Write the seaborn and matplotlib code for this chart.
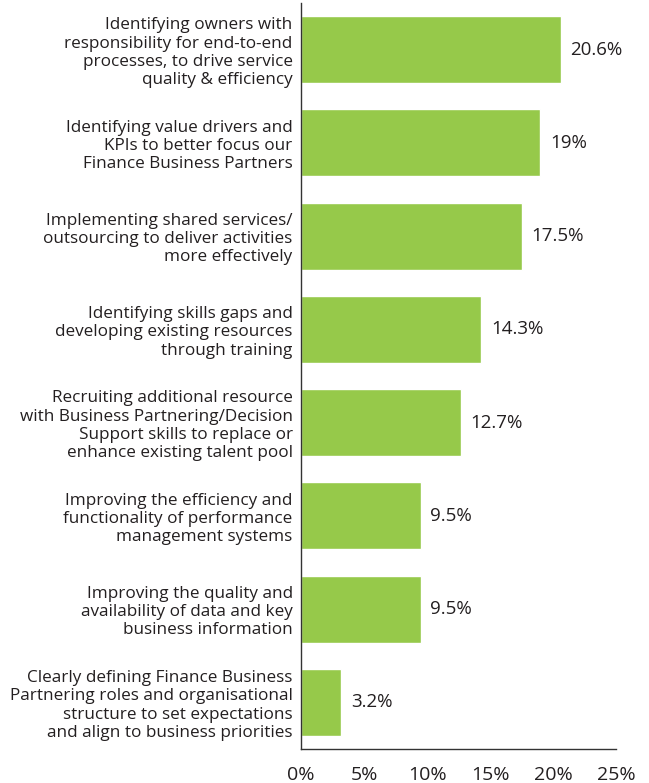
import matplotlib
matplotlib.use("Agg")
import matplotlib.pyplot as plt
import seaborn as sns
import pandas as pd

categories = [
    "Identifying owners with\nresponsibility for end-to-end\nprocesses, to drive service\nquality & efficiency",
    "Identifying value drivers and\nKPIs to better focus our\nFinance Business Partners",
    "Implementing shared services/\noutsourcing to deliver activities\nmore effectively",
    "Identifying skills gaps and\ndeveloping existing resources\nthrough training",
    "Recruiting additional resource\nwith Business Partnering/Decision\nSupport skills to replace or\nenhance existing talent pool",
    "Improving the efficiency and\nfunctionality of performance\nmanagement systems",
    "Improving the quality and\navailability of data and key\nbusiness information",
    "Clearly defining Finance Business\nPartnering roles and organisational\nstructure to set expectations\nand align to business priorities",
]
values = [20.6, 19, 17.5, 14.3, 12.7, 9.5, 9.5, 3.2]
value_labels = ["20.6%", "19%", "17.5%", "14.3%", "12.7%", "9.5%", "9.5%", "3.2%"]
x_ticks = [0, 5, 10, 15, 20, 25]
x_tick_labels = ["0%", "5%", "10%", "15%", "20%", "25%"]

df = pd.DataFrame({"category": categories, "value": values})

sns.set_theme(style="white")
plt.rcParams["font.family"] = ["Open Sans", "DejaVu Sans"]

text_color = "#231f20"
bar_color = "#96c94a"

fig = plt.figure(figsize=(6.49, 7.83), dpi=100)
ax = fig.add_axes([301 / 649, 1 - 749 / 783, 315 / 649, 746 / 783])

sns.barplot(data=df, x="value", y="category", orient="h", color=bar_color,
            saturation=1, width=0.72, ax=ax)

for i, (v, lab) in enumerate(zip(values, value_labels)):
    ax.annotate(lab, xy=(v, i), xytext=(7, 0), textcoords="offset points",
                ha="left", va="center", fontsize=13.5, color=text_color)

ax.set_xlim(0, 25)
ax.set_ylim(7.5, -0.5)
ax.set_xticks(x_ticks)
ax.set_xticklabels(x_tick_labels, fontsize=14, color=text_color)
ax.set_yticks(range(len(categories)))
ax.set_yticklabels(categories, fontsize=12.3, color=text_color,
                   fontweight="normal", linespacing=1.18, ha="right")
ax.tick_params(axis="y", length=0, pad=6)
ax.tick_params(axis="x", length=0, pad=12)
ax.set_xlabel("")
ax.set_ylabel("")

for side in ["top", "right"]:
    ax.spines[side].set_visible(False)
for side in ["left", "bottom"]:
    ax.spines[side].set_color("#333333")
    ax.spines[side].set_linewidth(1.0)

fig.savefig("out.png", dpi=100, facecolor="white")
